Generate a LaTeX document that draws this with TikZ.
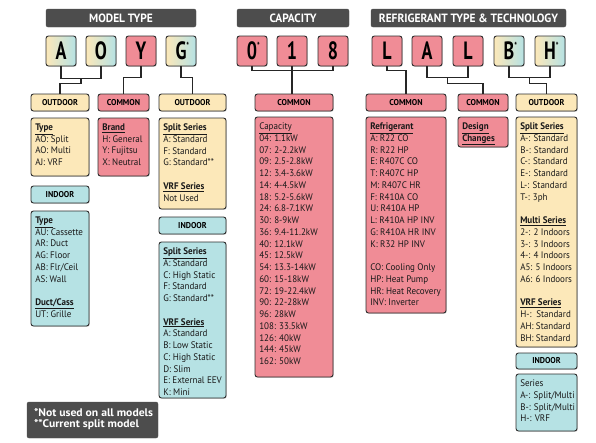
\documentclass[tikz,border=0pt]{standalone}
\usepackage{fontspec}
\setmainfont{PT Sans}[FakeStretch=0.95]
\newfontfamily\letterfont{PT Sans}[FakeStretch=0.72]
\newfontfamily\notefont{PT Sans}[FakeStretch=1.06]
\usetikzlibrary{shadows,calc}
\definecolor{cream}{RGB}{252,232,185}
\definecolor{sky}{RGB}{182,226,228}
\definecolor{pinkc}{RGB}{240,140,150}
\definecolor{dark}{RGB}{77,77,77}
\definecolor{edge}{RGB}{45,45,45}
\newcommand\hd[1]{\underline{#1}}
\newcommand\starred[1]{#1\rlap{\raisebox{10.5pt}{\fontsize{10}{10}\selectfont *}}}
\newcommand\mybox[7]{\node[#6, minimum width={(#4-#2)*1pt}, minimum height={(#5-#3)*1pt}] (#1) at ({(#2+#4)/2},{(#3+#5)/2}) {#7};}
\tikzset{
 basebox/.style={draw=edge, line width=0.9pt, rounded corners=2.5pt, drop shadow={shadow xshift=0.8pt,shadow yshift=-0.8pt,opacity=0.35}},
 hdr/.style={fill=dark, draw=dark, rounded corners=2pt, text=white, font=\bfseries\fontsize{12}{12}\selectfont, inner sep=0pt},
 letter/.style={basebox, inner sep=0pt, font=\letterfont\bfseries\fontsize{25}{25}\selectfont},
 grad/.style={left color=cream, right color=sky},
 lab/.style={basebox, inner sep=0pt, font=\bfseries\fontsize{8.5}{8.5}\selectfont},
 panel/.style={basebox, inner sep=0pt},
 txt/.style={inner sep=0pt, anchor=north west, align=left, text=black!90, font=\fontsize{9.5}{11.75}\selectfont},
 conn/.style={draw=black!85, line width=1.1pt},
}
\begin{document}
\begin{tikzpicture}[x=1pt,y=-1pt]
\useasboundingbox (0,0) rectangle (596,442);
% headers
\mybox{h1}{46}{9}{196}{27}{hdr}{MODEL TYPE}
\mybox{h2}{237}{9}{349}{27}{hdr}{CAPACITY}
\mybox{h3}{371}{9}{566}{27}{hdr}{REFRIGERANT TYPE \& TECHNOLOGY}
% letters
\mybox{lA}{46}{36}{76}{66}{letter,grad}{A}
\mybox{lO}{86}{36}{116}{66}{letter,grad}{O}
\mybox{lY}{126}{36}{156}{66}{letter,fill=pinkc}{Y}
\mybox{lG}{166}{36}{196}{66}{letter,grad}{\starred{G}}
\mybox{d0}{237}{36}{267}{66}{letter,fill=pinkc}{\starred{0}}
\mybox{d1}{277}{36}{307}{66}{letter,fill=pinkc}{1}
\mybox{d8}{318}{36}{348}{66}{letter,fill=pinkc}{8}
\mybox{r1}{372}{36}{402}{66}{letter,fill=pinkc}{L}
\mybox{r2}{412}{36}{442}{66}{letter,fill=pinkc}{A}
\mybox{r3}{453}{36}{483}{66}{letter,fill=pinkc}{L}
\mybox{r4}{494}{36}{524}{66}{letter,grad}{\starred{B}}
\mybox{r5}{535}{36}{565}{66}{letter,grad}{\starred{H}}
% labels
\mybox{od1}{31}{94}{89}{111}{lab,fill=cream}{OUTDOOR}
\mybox{cm1}{98}{94}{149}{111}{lab,fill=pinkc}{COMMON}
\mybox{od2}{159}{94}{226}{111}{lab,fill=cream}{OUTDOOR}
\mybox{cm3}{255}{94}{333}{111}{lab,fill=pinkc}{COMMON}
\mybox{cm4}{366}{94}{446}{111}{lab,fill=pinkc}{COMMON}
\mybox{cm5}{458}{94}{508}{111}{lab,fill=pinkc}{COMMON}
\mybox{od3}{516}{94}{577}{111}{lab,fill=cream}{OUTDOOR}
\mybox{in1}{31}{186}{89}{203}{lab,fill=sky}{INDOOR}
\mybox{in2}{159}{217}{226}{234}{lab,fill=sky}{INDOOR}
\mybox{in3}{516}{353}{577}{369}{lab,fill=sky}{INDOOR}
% panels
\mybox{pTypeO}{31}{118}{89}{176}{panel,fill=cream}{}
\mybox{pBrand}{98}{118}{149}{176}{panel,fill=pinkc}{}
\mybox{pSplitO}{159}{118}{226}{209}{panel,fill=cream}{}
\mybox{pTypeI}{31}{211}{89}{326}{panel,fill=sky}{}
\mybox{pSplitI}{159}{242}{226}{398}{panel,fill=sky}{}
\mybox{pCap}{255}{117}{333}{377}{panel,fill=pinkc}{}
\mybox{pRef}{366}{117}{446}{313}{panel,fill=pinkc}{}
\mybox{pDes}{458}{117}{508}{147}{panel,fill=pinkc}{}
\mybox{pOutR}{516}{117}{577}{347}{panel,fill=cream}{}
\mybox{pSerI}{516}{374}{577}{431}{panel,fill=sky}{}
\mybox{note}{27}{402}{158}{438}{hdr}{}
% panel texts
\node[txt] (tTypeO) at ([xshift=4.5pt,yshift=-6pt]pTypeO.north west) {\textbf{\hd{Type}}\\AO: Split\\AO: Multi\\AJ: VRF};
\node[txt] (tBrand) at ([xshift=4.5pt,yshift=-6pt]pBrand.north west) {\textbf{\hd{Brand}}\\H: General\\Y: Fujitsu\\X: Neutral};
\node[txt] (tSplitO) at ([xshift=4.5pt,yshift=-6pt]pSplitO.north west) {\textbf{\hd{Split Series}}\\A: Standard\\F: Standard\\G: Standard**\\[11.75pt]\textbf{\hd{VRF Series}}\\Not Used};
\node[txt] (tTypeI) at ([xshift=4.5pt,yshift=-6pt]pTypeI.north west) {\textbf{\hd{Type}}\\AU: Cassette\\AR: Duct\\AG: Floor\\AB: Flr/Ceil\\AS: Wall\\[11.75pt]\textbf{\hd{Duct/Cass}}\\UT: Grille};
\node[txt] (tSplitI) at ([xshift=4.5pt,yshift=-6pt]pSplitI.north west) {\textbf{\hd{Split Series}}\\A: Standard\\C: High Static\\F: Standard\\G: Standard**\\[11.75pt]\textbf{\hd{VRF Series}}\\A: Standard\\B: Low Static\\C: High Static\\D: Slim\\E: External EEV\\K: Mini};
\node[txt] (tCap) at ([xshift=4.5pt,yshift=-6pt]pCap.north west) {\hd{Capacity}\\04: 1.1kW\\07: 2-2.2kW\\09: 2.5-2.8kW\\12: 3.4-3.6kW\\14: 4-4.5kW\\18: 5.2-5.6kW\\24: 6.8-7.1KW\\30: 8-9kW\\36: 9.4-11.2kW\\40: 12.1kW\\45: 12.5kW\\54: 13.3-14kW\\60: 15-18kW\\72: 19-22.4kW\\90: 22-28kW\\96: 28kW\\108: 33.5kW\\126: 40kW\\144: 45kW\\162: 50kW};
\node[txt] (tRef) at ([xshift=4.5pt,yshift=-6pt]pRef.north west) {\textbf{\hd{Refrigerant}}\\A: R22 CO\\R: R22 HP\\E: R407C CO\\T: R407C HP\\M: R407C HR\\F: R410A CO\\U: R410A HP\\L: R410A HP INV\\G: R410A HR INV\\K: R32 HP INV\\[11.75pt]CO: Cooling Only\\HP: Heat Pump\\HR: Heat Recovery\\INV: Inverter};
\node[txt] (tDes) at ([xshift=4.5pt,yshift=-6pt]pDes.north west) {\textbf{\hd{Design}}\\\textbf{\hd{Changes}}};
\node[txt] (tOutR) at ([xshift=4.5pt,yshift=-6pt]pOutR.north west) {\textbf{\hd{Split Series}}\\A-: Standard\\B-: Standard\\C-: Standard\\E-: Standard\\L-: Standard\\T-: 3ph\\[11.75pt]\textbf{\hd{Multi Series}}\\2-: 2 Indoors\\3-: 3 Indoors\\4-: 4 Indoors\\A5: 5 Indoors\\A6: 6 Indoors\\[11.75pt]\textbf{\hd{VRF Series}}\\H-:\ \ Standard\\AH: Standard\\BH: Standard};
\node[txt] (tSerI) at ([xshift=4.5pt,yshift=-6pt]pSerI.north west) {Series\\A-: Split/Multi\\B-: Split/Multi\\H-: VRF};
\node[txt, text=white, font=\notefont\bfseries\fontsize{11}{11.5}\selectfont] (tNote) at ([xshift=7pt,yshift=-6pt]note.north west) {*Not used on all models\\**Current split model};
% connectors
\coordinate (jAO) at ($(lA.south)!0.5!(lO.south)+(0,12)$);
\draw[conn] (lA.south) -- ++(0,12) -| (lO.south);
\draw[conn] (jAO) -- ++(0,5) -| (od1.north);
\draw[conn] (lY.south) -- ++(0,11) -| (cm1.north);
\draw[conn] (lG.south) -- ++(0,11) -| (od2.north);
\draw[conn] (d0.south) -- ++(0,4) -| (d8.south);
\draw[conn] (d1.south) -- (d1.south |- cm3.north);
\draw[conn] (r1.south) -- ++(0,4) -| (cm4.north);
\coordinate (jAL) at ($(r2.south)!0.5!(r3.south)+(0,11)$);
\draw[conn] (r2.south) -- ++(0,11) -| (r3.south);
\draw[conn] (jAL) -- ++(0,6) -| (cm5.north);
\coordinate (jBH) at ($(r4.south)!0.5!(r5.south)+(0,11)$);
\draw[conn] (r4.south) -- ++(0,11) -| (r5.south);
\draw[conn] (jBH) -- ++(0,6) -| (od3.north);
\end{tikzpicture}
\end{document}
